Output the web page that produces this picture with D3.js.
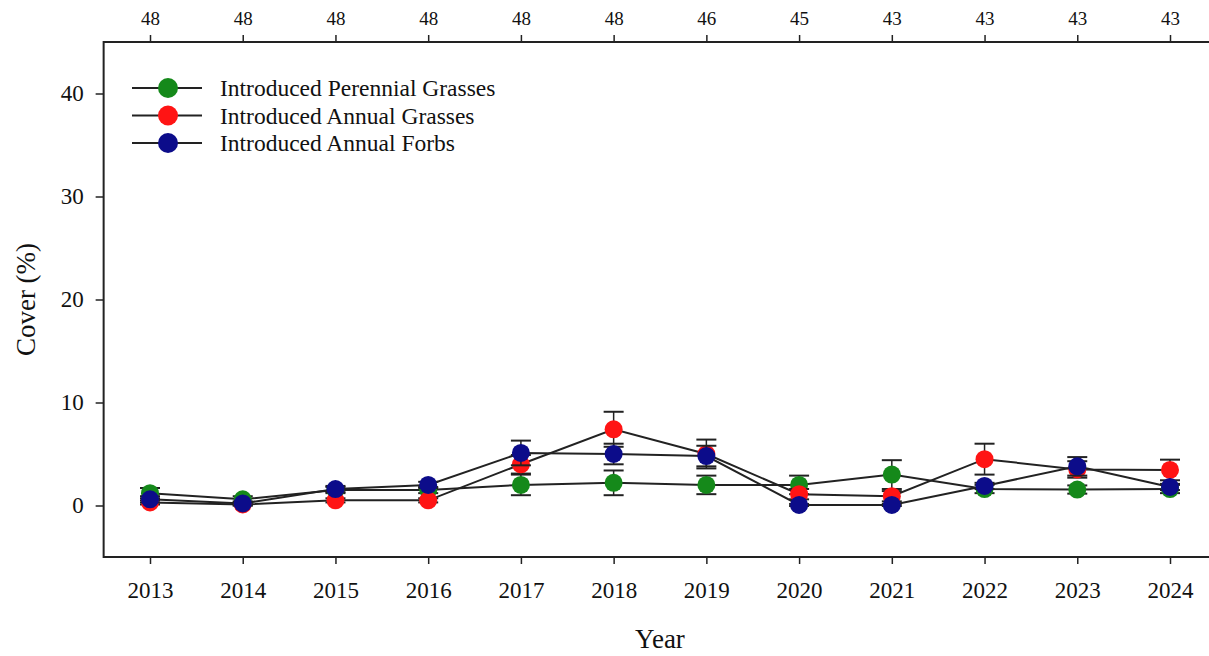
<!DOCTYPE html>
<html>
<head>
<meta charset="utf-8">
<script src="https://cdn.jsdelivr.net/npm/d3@7"></script>
<style>
  html, body { margin: 0; padding: 0; background: #fff; }
  svg { display: block; }
  text { font-family: "Liberation Serif", "Times New Roman", serif; fill: #111; }
</style>
</head>
<body>
<svg id="chart" width="1209" height="656"></svg>
<script>
// ---- data ----
const years = [2013, 2014, 2015, 2016, 2017, 2018, 2019, 2020, 2021, 2022, 2023, 2024];
const sampleSizes = [48, 48, 48, 48, 48, 48, 46, 45, 43, 43, 43, 43];
const seriesNames = ["Introduced Perennial Grasses", "Introduced Annual Grasses", "Introduced Annual Forbs"];
const perennialGrasses   = [1.2, 0.6, 1.5, 1.5, 2.0, 2.2, 2.0, 2.0, 3.0, 1.6, 1.55, 1.6];
const perennialGrassesSE = [0.5, 0.3, 0.3, 0.3, 1.0, 1.2, 0.9, 0.9, 1.4, 0.4, 0.4, 0.4];
const annualGrasses      = [0.3, 0.1, 0.5, 0.5, 4.0, 7.4, 5.0, 1.1, 0.9, 4.5, 3.5, 3.45];
const annualGrassesSE    = [0.2, 0.1, 0.2, 0.2, 0.9, 1.7, 1.4, 0.5, 0.5, 1.5, 0.8, 1.0];
const annualForbs        = [0.6, 0.2, 1.6, 2.0, 5.1, 5.0, 4.8, 0.05, 0.05, 1.9, 3.8, 1.8];
const annualForbsSE      = [0.3, 0.2, 0.3, 0.3, 1.2, 1.0, 1.0, 0.1, 0.1, 0.3, 0.9, 0.3];
const yTicks = [0, 10, 20, 30, 40];
const colors = ["#15891a", "#ff1414", "#0c0c8a"];

const series = [
  { name: seriesNames[0], values: perennialGrasses, se: perennialGrassesSE, color: colors[0] },
  { name: seriesNames[1], values: annualGrasses, se: annualGrassesSE, color: colors[1] },
  { name: seriesNames[2], values: annualForbs, se: annualForbsSE, color: colors[2] }
];

// ---- layout ----
const W = 1209, H = 656;
const svg = d3.select("#chart");
const x = d3.scaleLinear().domain([2013, 2024]).range([150, 1170]);
const y = d3.scaleLinear().domain([-5, 45]).range([557, 42]);
const plotLeft = x(2012.5), plotRight = W + 10;
const plotTop = y(45), plotBottom = y(-5);

// frame (left, top, bottom)
svg.append("path")
  .attr("d", `M${plotRight},${plotTop}H${plotLeft}V${plotBottom}H${plotRight}`)
  .attr("fill", "none").attr("stroke", "#222").attr("stroke-width", 2);

// y axis
const yAxis = svg.append("g").attr("transform", `translate(${plotLeft},0)`)
  .call(d3.axisLeft(y).tickValues(yTicks).tickSize(8).tickPadding(12).tickFormat(d3.format("d")));
yAxis.select(".domain").remove();
yAxis.selectAll("line").attr("stroke", "#222").attr("stroke-width", 1.5);
yAxis.selectAll("text").style("font-size", "23px").attr("fill", "#111");

// bottom x axis
const xAxis = svg.append("g").attr("transform", `translate(0,${plotBottom})`)
  .call(d3.axisBottom(x).tickValues(years).tickSize(7).tickPadding(18).tickFormat(d3.format("d")));
xAxis.select(".domain").remove();
xAxis.selectAll("line").attr("stroke", "#222").attr("stroke-width", 1.5);
xAxis.selectAll("text").style("font-size", "23px").attr("fill", "#111");

// top axis (sample sizes)
const xTop = svg.append("g").attr("transform", `translate(0,${plotTop})`)
  .call(d3.axisTop(x).tickValues(years).tickSize(7).tickPadding(10).tickFormat((d, i) => sampleSizes[i]));
xTop.select(".domain").remove();
xTop.selectAll("line").attr("stroke", "#222").attr("stroke-width", 1.5);
xTop.selectAll("text").style("font-size", "19px").attr("fill", "#111");

// axis titles
svg.append("text").attr("x", x(2018.5)).attr("y", 648).attr("text-anchor", "middle")
  .style("font-size", "27px").text("Year");
svg.append("text").attr("transform", `translate(35,${y(20)}) rotate(-90)`).attr("text-anchor", "middle")
  .style("font-size", "27px").text("Cover (%)");

// series
const line = d3.line().x((d, i) => x(years[i])).y(d => y(d));
series.forEach(s => {
  const g = svg.append("g");
  g.append("path").datum(s.values).attr("d", line)
    .attr("fill", "none").attr("stroke", "#222").attr("stroke-width", 2);
  const eb = g.selectAll("g.eb").data(s.values).enter().append("g");
  eb.append("line")
    .attr("x1", (d, i) => x(years[i])).attr("x2", (d, i) => x(years[i]))
    .attr("y1", (d, i) => y(d - s.se[i])).attr("y2", (d, i) => y(d + s.se[i]))
    .attr("stroke", "#222").attr("stroke-width", 1.5);
  [-1, 1].forEach(sign => {
    eb.append("line")
      .attr("x1", (d, i) => x(years[i]) - 10).attr("x2", (d, i) => x(years[i]) + 10)
      .attr("y1", (d, i) => y(d + sign * s.se[i])).attr("y2", (d, i) => y(d + sign * s.se[i]))
      .attr("stroke", "#222").attr("stroke-width", 2);
  });
  g.selectAll("circle").data(s.values).enter().append("circle")
    .attr("cx", (d, i) => x(years[i])).attr("cy", d => y(d)).attr("r", 9)
    .attr("fill", s.color);
});

// legend
const legend = svg.append("g");
series.forEach((s, i) => {
  const ly = 88 + i * 27.5;
  legend.append("line").attr("x1", 132).attr("x2", 202).attr("y1", ly).attr("y2", ly)
    .attr("stroke", "#222").attr("stroke-width", 2);
  legend.append("circle").attr("cx", 168).attr("cy", ly).attr("r", 10).attr("fill", s.color);
  legend.append("text").attr("x", 220).attr("y", ly).attr("dy", "0.35em")
    .style("font-size", "23.5px").text(s.name);
});
</script>
</body>
</html>
